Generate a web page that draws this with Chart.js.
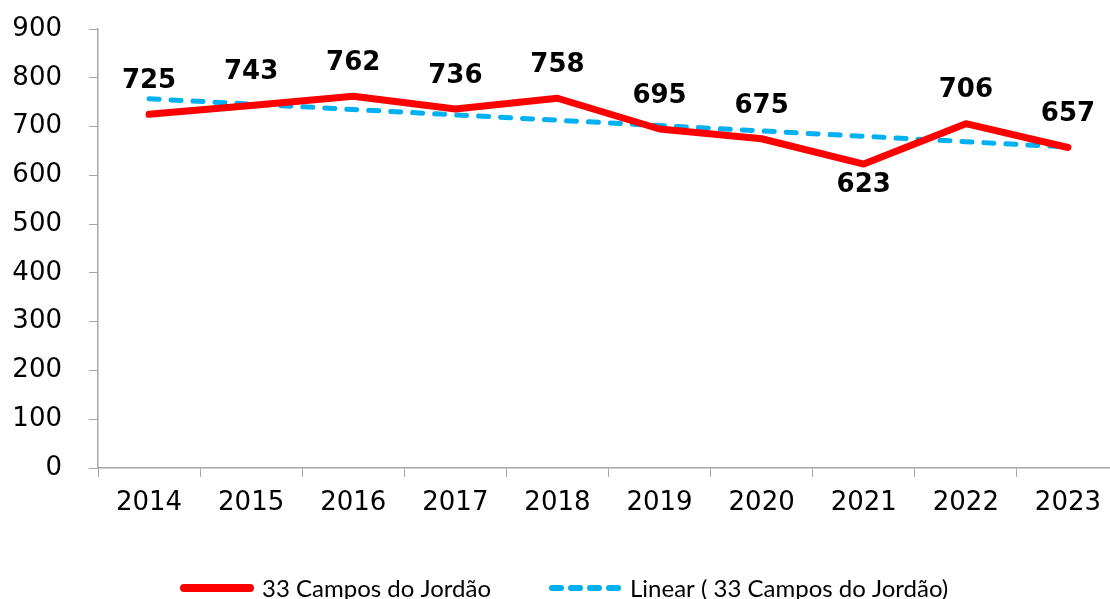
<!DOCTYPE html>
<html>
<head>
<meta charset="utf-8">
<script src="https://cdn.jsdelivr.net/npm/chart.js@4/dist/chart.umd.min.js"></script>
<style>
  html, body { margin: 0; padding: 0; background: #fff; overflow: hidden; }
  #wrap { width: 1121px; height: 599px; }
</style>
</head>
<body>
<div id="wrap"><canvas id="lineChart" width="1121" height="599"></canvas></div>
<script>
// dados do gráfico
const years = ['2014', '2015', '2016', '2017', '2018', '2019', '2020', '2021', '2022', '2023'];
const campos = [725, 743, 762, 736, 758, 695, 675, 623, 706, 657];
// linha de tendência
const trend = [757, 746, 735, 724, 713, 702, 691, 680, 669, 658];
const yTicks = [0, 100, 200, 300, 400, 500, 600, 700, 800, 900];

const axisGray = '#a6a6a6';

// rótulos de valor (sem plugin externo)
const valueLabels = {
  id: 'valueLabels',
  afterDatasetsDraw(chart) {
    const ctx = chart.ctx;
    const meta = chart.getDatasetMeta(0);
    ctx.save();
    ctx.font = 'bold 26px "DejaVu Sans"';
    ctx.fillStyle = '#000';
    ctx.textAlign = 'center';
    ctx.textBaseline = 'middle';
    meta.data.forEach((pt, i) => {
      const below = years[i] === '2021';
      ctx.fillText(String(campos[i]), pt.x, below ? pt.y + 21 : pt.y - 33);
    });
    ctx.restore();
  }
};

// legenda desenhada à mão, parecida com a do Excel
const bottomLegend = {
  id: 'bottomLegend',
  afterDraw(chart) {
    const ctx = chart.ctx;
    const y = 588;
    ctx.save();
    ctx.lineCap = 'round';
    ctx.strokeStyle = '#ff0000';
    ctx.lineWidth = 8;
    ctx.beginPath();
    ctx.moveTo(184, y);
    ctx.lineTo(250, y);
    ctx.stroke();

    ctx.strokeStyle = '#00b0f0';
    ctx.lineWidth = 6;
    ctx.setLineDash([9, 10]);
    ctx.beginPath();
    ctx.moveTo(552, y);
    ctx.lineTo(619, y);
    ctx.stroke();
    ctx.setLineDash([]);

    ctx.font = '24px Lato';
    ctx.fillStyle = '#000';
    ctx.textBaseline = 'middle';
    ctx.fillText('33 Campos do Jordão', 262, y + 1);
    ctx.fillText('Linear ( 33 Campos do Jordão)', 630, y + 1);
    ctx.restore();
  }
};

const ctx = document.getElementById('lineChart').getContext('2d');
new Chart(ctx, {
  type: 'line',
  data: {
    labels: years,
    datasets: [{
      label: '33 Campos do Jordão',
      data: campos,
      borderColor: '#ff0000',
      borderWidth: 7,
      pointRadius: 0,
      borderJoinStyle: 'round',
      borderCapStyle: 'round',
      tension: 0
    }, {
      label: 'Linear ( 33 Campos do Jordão)',
      data: trend,
      borderColor: '#00b0f0',
      borderWidth: 5,
      borderDash: [10, 12],
      borderCapStyle: 'round',
      pointRadius: 0,
      tension: 0
    }]
  },
  options: {
    responsive: false,
    animation: false,
    layout: { padding: { top: 29, right: 2, bottom: 0, left: 0 } },
    plugins: {
      legend: { display: false },
      tooltip: { enabled: false }
    },
    scales: {
      x: {
        offset: true,
        grid: { offset: true, drawOnChartArea: false, color: axisGray, tickLength: 9 },
        border: { color: axisGray, width: 1.5 },
        ticks: { color: '#000', font: { family: 'DejaVu Sans', size: 26 }, padding: 11, maxRotation: 0 },
        afterFit(scale) { scale.height = 131; scale.paddingLeft = 0; scale.paddingRight = 0; }
      },
      y: {
        min: 0,
        max: 900,
        afterBuildTicks(scale) { scale.ticks = yTicks.map(v => ({ value: v })); },
        grid: { drawOnChartArea: false, color: axisGray, tickLength: 9 },
        border: { color: axisGray, width: 1.5 },
        ticks: { color: '#000', font: { family: 'DejaVu Sans', size: 26 }, padding: 27 },
        afterFit(scale) { scale.width = 98; scale.paddingTop = 0; scale.paddingBottom = 0; }
      }
    }
  },
  plugins: [valueLabels, bottomLegend]
});
</script>
</body>
</html>
